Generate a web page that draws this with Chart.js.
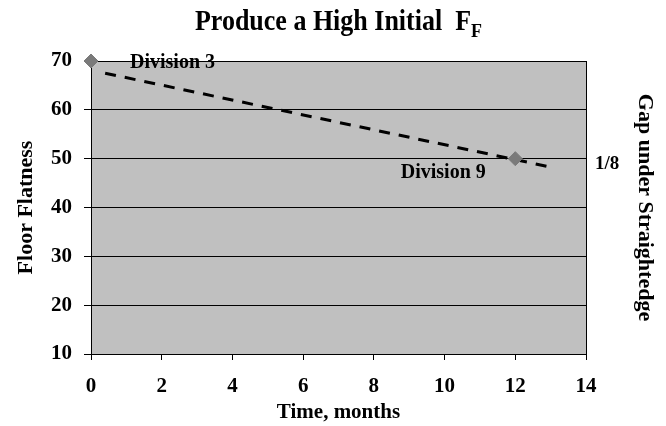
<!DOCTYPE html>
<html>
<head>
<meta charset="utf-8">
<script src="https://cdn.jsdelivr.net/npm/chart.js@4/dist/chart.umd.min.js"></script>
<style>
  html, body { margin: 0; padding: 0; background: #fff; }
  #wrap { width: 666px; height: 426px; position: relative; }
</style>
</head>
<body>
<div id="wrap"><canvas id="c" width="666" height="426"></canvas></div>
<script>
// ---- data ----
const titleMain = 'Produce a High Initial  F';
const titleSub = 'F';
const markerTimes = [0, 12];
const markerFlatness = [70, 50];
const markerLabels = ['Division 3', 'Division 9'];
const trendTimes = [0.4, 13.05];
const trendFlatness = [67.5, 48.2];
const yTickValues = [10, 20, 30, 40, 50, 60, 70];
const xTickValues = [0, 2, 4, 6, 8, 10, 12, 14];
const rightTickValue = 50;
const rightTickLabel = '1/8';
const xTitle = 'Time, months';
const yTitle = 'Floor Flatness';
const y2Title = 'Gap under Straightedge';

const SERIF = "'Liberation Serif', 'Times New Roman', serif";

const markerPoints = markerTimes.map((t, i) => ({ x: t, y: markerFlatness[i] }));
const trendPoints = trendTimes.map((t, i) => ({ x: t, y: trendFlatness[i] }));

const bgPlugin = {
  id: 'plotBg',
  beforeDraw(chart) {
    const { ctx, chartArea: a } = chart;
    ctx.save();
    ctx.fillStyle = '#c0c0c0';
    ctx.fillRect(a.left, a.top, a.right - a.left, a.bottom - a.top);
    ctx.restore();
  }
};

const textPlugin = {
  id: 'texts',
  afterDraw(chart) {
    const { ctx } = chart;
    const xs = chart.scales.x, ys = chart.scales.y;
    ctx.save();
    // title with subscript
    ctx.fillStyle = '#000';
    ctx.font = 'bold 26px ' + SERIF;
    ctx.textBaseline = 'alphabetic';
    const wMain = ctx.measureText(titleMain).width;
    ctx.font = 'bold 18px ' + SERIF;
    const wSub = ctx.measureText(titleSub).width;
    const total = wMain + wSub;
    const cx = (chart.chartArea.left + chart.chartArea.right) / 2;
    const x0 = cx - total / 2;
    ctx.save();
    ctx.translate(0, 30);
    ctx.scale(1, 1.1);
    ctx.font = 'bold 26px ' + SERIF;
    ctx.textAlign = 'left';
    ctx.fillText(titleMain, x0, 0);
    ctx.font = 'bold 18px ' + SERIF;
    ctx.fillText(titleSub, x0 + wMain, 6);
    ctx.restore();

    // point labels
    ctx.font = 'bold 20px ' + SERIF;
    ctx.textBaseline = 'middle';
    ctx.textAlign = 'left';
    ctx.fillText(markerLabels[0], xs.getPixelForValue(markerTimes[0]) + 39, ys.getPixelForValue(markerFlatness[0]) + 2);
    ctx.textAlign = 'center';
    ctx.fillText(markerLabels[1], xs.getPixelForValue(markerTimes[1]) - 72, ys.getPixelForValue(markerFlatness[1]) + 14);
    ctx.restore();
  }
};

new Chart(document.getElementById('c'), {
  type: 'scatter',
  data: {
    datasets: [
      {
        label: 'trend',
        data: trendPoints,
        showLine: true,
        borderColor: '#000',
        borderWidth: 3,
        borderDash: [11, 9],
        pointRadius: 0,
        fill: false,
        order: 1
      },
      {
        label: 'divisions',
        data: markerPoints,
        showLine: false,
        clip: false,
        pointStyle: 'rectRot',
        pointRadius: 7,
        pointBackgroundColor: '#7a7a7a',
        pointBorderColor: '#7a7a7a',
        order: 0
      }
    ]
  },
  options: {
    responsive: false,
    animation: false,
    events: [],
    layout: { padding: { top: 61, left: 0, right: 0, bottom: 0 } },
    plugins: {
      legend: { display: false },
      tooltip: { enabled: false },
      title: { display: false }
    },
    scales: {
      x: {
        type: 'linear',
        min: 0, max: 14,
        afterBuildTicks(s) { s.ticks = xTickValues.map(v => ({ value: v })); },
        afterFit(s) { s.height = 72; },
        grid: { drawOnChartArea: false, drawTicks: true, tickLength: 6, color: '#000', lineWidth: 1 },
        border: { display: true, color: '#000', width: 1 },
        ticks: { color: '#000', font: { family: SERIF, size: 21, weight: 'bold' }, padding: 14, maxRotation: 0 },
        title: { display: true, text: xTitle, color: '#000', font: { family: SERIF, size: 21, weight: 'bold' }, padding: { top: 0, bottom: 1 } }
      },
      y: {
        type: 'linear',
        position: 'left',
        min: 10, max: 70,
        afterBuildTicks(s) { s.ticks = yTickValues.map(v => ({ value: v })); },
        afterFit(s) { s.width = 91; },
        grid: { drawOnChartArea: true, drawTicks: true, tickLength: 7, color: '#000', lineWidth: 1 },
        border: { display: true, color: '#000', width: 1 },
        ticks: { color: '#000', font: { family: SERIF, size: 21, weight: 'bold' }, padding: 12 },
        title: { display: true, text: yTitle, color: '#000', font: { family: SERIF, size: 22, weight: 'bold' }, padding: { top: 13, bottom: 0 } }
      },
      y2: {
        type: 'linear',
        position: 'right',
        min: 10, max: 70,
        afterBuildTicks(s) { s.ticks = [{ value: rightTickValue }]; },
        afterFit(s) { s.width = 80; },
        grid: { drawOnChartArea: false, drawTicks: false, tickLength: 0 },
        border: { display: true, color: '#000', width: 1 },
        ticks: { color: '#000', font: { family: SERIF, size: 19, weight: 'bold' }, padding: 9, labelOffset: 5, callback: (v) => v === rightTickValue ? rightTickLabel : '' },
        title: { display: true, text: y2Title, color: '#000', font: { family: SERIF, size: 22, weight: 'bold' }, padding: { top: 8, bottom: 0 } }
      }
    }
  },
  plugins: [bgPlugin, textPlugin]
});
</script>
</body>
</html>
